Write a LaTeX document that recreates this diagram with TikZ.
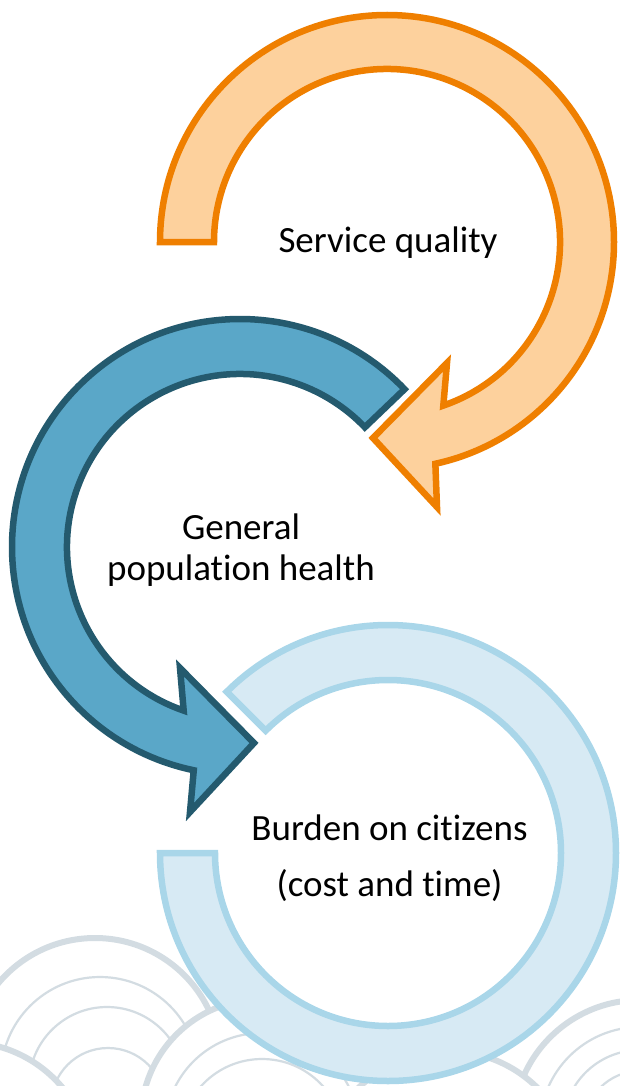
\documentclass[tikz,border=0pt]{standalone}
\usepackage{fontspec}
\setmainfont{Carlito}[RawFeature={-liga;-clig}]
\usetikzlibrary{calc}
\definecolor{orgline}{HTML}{EF7F00}
\definecolor{orgfill}{HTML}{FDD19D}
\definecolor{bluline}{HTML}{245A6E}
\definecolor{blufill}{HTML}{5AA7C8}
\definecolor{ltline}{HTML}{A9D6E9}
\definecolor{ltfill}{HTML}{D7EAF4}
\definecolor{wave}{HTML}{D3DCE2}
\tikzset{
  orangearrow/.style={draw=orgline, fill=orgfill, line width=6.5pt, line join=miter},
  bluearrow/.style={draw=bluline, fill=blufill, line width=6.5pt, line join=miter},
  lightring/.style={draw=ltline, fill=ltfill, line width=6.5pt, line join=miter},
  wavethick/.style={draw=wave, fill=white, line width=6pt},
  wavethin/.style={draw=wave, line width=2.2pt},
  label/.style={font=\fontsize{37}{44}\selectfont, anchor=base, inner sep=0pt, text=black}
}
\begin{document}
\begin{tikzpicture}[x=1pt,y=-1pt]
\useasboundingbox (0,0) rectangle (620,1086);
\begin{scope}
\clip (0,0) rectangle (620,1086);
% background seigaiha waves
% group A
\coordinate (wa) at (95,1064);
\draw[wavethick] (wa) circle[radius=126];
\draw[wavethin] ($(wa)+(5,12)$) circle[radius=99];
\draw[wavethin] ($(wa)+(12,21)$) circle[radius=78];
\draw[wavethin] ($(wa)+(13,41)$) circle[radius=57];
% group B
\coordinate (wb) at (262,1120);
\draw[wavethick] (wb) circle[radius=121];
\draw[wavethin] ($(wb)+(0,10)$) circle[radius=97];
\draw[wavethin] ($(wb)+(0,21)$) circle[radius=82];
\draw[wavethin] ($(wb)+(0,41)$) circle[radius=57];
% group C
\coordinate (wc) at (640,1127);
\draw[wavethick] (wc) circle[radius=127];
\draw[wavethin] (wc) circle[radius=100];
\draw[wavethin] (wc) circle[radius=77];
\draw[wavethin] (wc) circle[radius=56];
% group D
\coordinate (wd) at (448,1178);
\draw[wavethick] (wd) circle[radius=127];
\draw[wavethin] ($(wd)+(0,12)$) circle[radius=99];
% group E
\coordinate (we) at (-35,1169);
\draw[wavethick] (we) circle[radius=127];
\draw[wavethin] ($(we)+(0,12)$) circle[radius=99];
\end{scope}

% light blue open ring
\coordinate (C) at (388,853);
\draw[lightring] ($(C)+(180:228)$) arc[start angle=180, end angle=-135, radius=228]
  -- ($(C)+(-135:173)$) arc[start angle=-135, end angle=180, radius=173] -- cycle;

% blue circular arrow
\coordinate (B) at (240,547);
\draw[bluearrow] ($(B)+(-43.8:228)$) arc[start angle=-43.8, end angle=-258.3, radius=228]
  -- ($(B)+(-50,265)$) -- ($(B)+(14,196)$) -- ($(B)+(-60,121)$)
  -- ($(B)+(-251:173)$) arc[start angle=-251, end angle=-43.8, radius=173] -- cycle;

% orange circular arrow
\coordinate (O) at (387,242);
\draw[orangearrow] ($(O)+(180:227)$) arc[start angle=180, end angle=437.7, radius=227]
  -- ($(O)+(50,265)$) -- ($(O)+(-14,196)$) -- ($(O)+(60,121)$)
  -- ($(O)+(431:173)$) arc[start angle=431, end angle=180, radius=173] -- cycle;

% labels
\node[label] (sq) at (388,252) {Service quality};
\node[label] (gp1) at (241,539) {General};
\node[label] (gp2) at (241,580) {population health};
\node[label] (bc1) at (389.5,840) {Burden on citizens};
\node[label] (bc2) at (389.5,896) {(cost and time)};
\end{tikzpicture}
\end{document}
